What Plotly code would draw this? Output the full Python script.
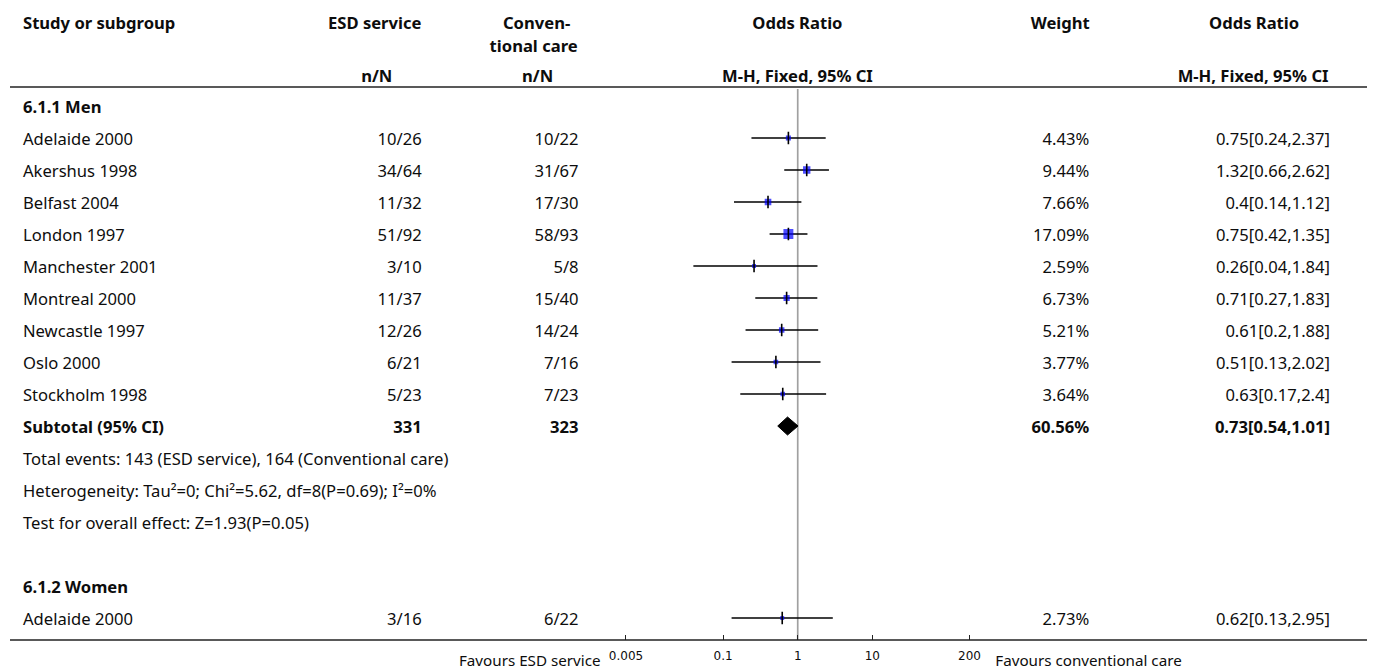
import plotly.graph_objects as go

# ---- data -------------------------------------------------------------
men_studies = ["Adelaide 2000", "Akershus 1998", "Belfast 2004", "London 1997",
               "Manchester 2001", "Montreal 2000", "Newcastle 1997", "Oslo 2000",
               "Stockholm 1998"]
men_esd = ["10/26", "34/64", "11/32", "51/92", "3/10", "11/37", "12/26", "6/21", "5/23"]
men_conv = ["10/22", "31/67", "17/30", "58/93", "5/8", "15/40", "14/24", "7/16", "7/23"]
men_weight = [4.43, 9.44, 7.66, 17.09, 2.59, 6.73, 5.21, 3.77, 3.64]
men_or = [0.75, 1.32, 0.4, 0.75, 0.26, 0.71, 0.61, 0.51, 0.63]
men_lo = [0.24, 0.66, 0.14, 0.42, 0.04, 0.27, 0.2, 0.13, 0.17]
men_hi = [2.37, 2.62, 1.12, 1.35, 1.84, 1.83, 1.88, 2.02, 2.4]

sub_esd_total, sub_conv_total = 331, 323
sub_weight = 60.56
sub_or, sub_lo, sub_hi = 0.73, 0.54, 1.01

women_studies = ["Adelaide 2000"]
women_esd = ["3/16"]
women_conv = ["6/22"]
women_weight = [2.73]
women_or = [0.62]
women_lo = [0.13]
women_hi = [2.95]

stats_lines = [
    "Total events: 143 (ESD service), 164 (Conventional care)",
    "Heterogeneity: Tau\u00b2=0; Chi\u00b2=5.62, df=8(P=0.69); I\u00b2=0%",
    "Test for overall effect: Z=1.93(P=0.05)",
]

tick_vals = [0.005, 0.1, 1, 10, 200]
tick_text = ["0.005", "0.1", "1", "10", "200"]

# ---- layout constants -------------------------------------------------
W, H = 1375, 669
ROW0_PX, ROW_PX = 106, 32          # pixel centre of row 0 and row pitch
AXIS_PX = 640                      # pixel of the bottom axis line
TOP_R = -ROW0_PX / ROW_PX
BOT_R = (H - ROW0_PX) / ROW_PX
AXIS_R = (AXIS_PX - ROW0_PX) / ROW_PX
TEXT_DY = 3 / ROW_PX               # nudge so glyphs sit on the row centre

FONT = "Noto Sans"
FS = 16.6
TXT = "#0d0d0d"


def px(x):
    """horizontal layout position in figure pixels"""
    return (x - 9) / 0.992


def row_of_px(p):
    return (p - ROW0_PX) / ROW_PX


# row indices
men_rows = list(range(1, 1 + len(men_studies)))
sub_row = 10
stats_rows = [11, 12, 13]
women_head_row = 15
women_rows = [16]

all_or = men_or + women_or
all_lo = men_lo + women_lo
all_hi = men_hi + women_hi
all_w = men_weight + women_weight
all_rows = men_rows + women_rows

fig = go.Figure()

# reference line at OR = 1
fig.add_trace(go.Scatter(x=[1, 1], y=[row_of_px(89), AXIS_R], mode="lines",
                         line=dict(color="#a0a0a0", width=1.7),
                         hoverinfo="skip", showlegend=False))

# confidence intervals
ci_x, ci_y = [], []
for lo, hi, r in zip(all_lo, all_hi, all_rows):
    ci_x += [lo, hi, None]
    ci_y += [r, r, None]
fig.add_trace(go.Scatter(x=ci_x, y=ci_y, mode="lines",
                         line=dict(color="black", width=1.5),
                         hoverinfo="skip", showlegend=False))

# weighted squares
fig.add_trace(go.Scatter(x=all_or, y=all_rows, mode="markers",
                         marker=dict(symbol="square", color="#0000ff",
                                     size=[2.4 * w ** 0.5 for w in all_w],
                                     line=dict(width=0)),
                         hoverinfo="skip", showlegend=False))

# point estimate ticks
fig.add_trace(go.Scatter(x=all_or, y=all_rows, mode="markers",
                         marker=dict(symbol="line-ns", size=9,
                                     line=dict(color="black", width=1.6)),
                         hoverinfo="skip", showlegend=False))

# subtotal diamond
dh = 9 / ROW_PX
fig.add_trace(go.Scatter(x=[sub_lo, sub_or, sub_hi, sub_or, sub_lo],
                         y=[sub_row, sub_row - dh, sub_row, sub_row + dh, sub_row],
                         mode="lines", fill="toself", fillcolor="black",
                         line=dict(color="black", width=1),
                         hoverinfo="skip", showlegend=False))

# ---- table text, placed on a full-width pixel axis (x2) ---------------
txt_x, txt_y, txt_s, txt_pos = [], [], [], []


def add_text(text, xp, r, pos="middle right", bold=False):
    txt_x.append(px(xp))
    txt_y.append(r + TEXT_DY)
    txt_s.append("<b>" + text + "</b>" if bold else text)
    txt_pos.append(pos)


L, R, C = "middle right", "middle left", "middle center"

hy1, hy2, hy3 = row_of_px(22), row_of_px(45), row_of_px(75)
add_text("Study or subgroup", 22, hy1, L, True)
add_text("ESD service", 374, hy1, C, True)
add_text("n/N", 376, hy3, C, True)
add_text("Conven-", 536, hy1, C, True)
add_text("tional care", 533, hy2, C, True)
add_text("n/N", 537, hy3, C, True)
add_text("Odds Ratio", 797, hy1, C, True)
add_text("M-H, Fixed, 95% CI", 797, hy3, C, True)
add_text("Weight", 1060, hy1, C, True)
add_text("Odds Ratio", 1254, hy1, C, True)
add_text("M-H, Fixed, 95% CI", 1253, hy3, C, True)


def fmt_or(o, lo, hi):
    return f"{o:g}[{lo:g},{hi:g}]"


add_text("6.1.1 Men", 22, 0, L, True)
for i, r in enumerate(men_rows):
    add_text(men_studies[i], 22, r, L)
    add_text(men_esd[i], 421, r, R)
    add_text(men_conv[i], 578, r, R)
    add_text(f"{men_weight[i]:.2f}%", 1089, r, R)
    add_text(fmt_or(men_or[i], men_lo[i], men_hi[i]), 1330, r, R)

add_text("Subtotal (95% CI)", 22, sub_row, L, True)
add_text(str(sub_esd_total), 421, sub_row, R, True)
add_text(str(sub_conv_total), 578, sub_row, R, True)
add_text(f"{sub_weight:.2f}%", 1089, sub_row, R, True)
add_text(fmt_or(sub_or, sub_lo, sub_hi), 1330, sub_row, R, True)

for line, r in zip(stats_lines, stats_rows):
    add_text(line, 22, r, L)

add_text("6.1.2 Women", 22, women_head_row, L, True)
for i, r in enumerate(women_rows):
    add_text(women_studies[i], 22, r, L)
    add_text(women_esd[i], 421, r, R)
    add_text(women_conv[i], 578, r, R)
    add_text(f"{women_weight[i]:.2f}%", 1089, r, R)
    add_text(fmt_or(women_or[i], women_lo[i], women_hi[i]), 1330, r, R)

fig.add_trace(go.Scatter(x=txt_x, y=txt_y, text=txt_s, mode="text",
                         textposition=txt_pos, xaxis="x2", yaxis="y",
                         textfont=dict(family=FONT, size=FS, color=TXT),
                         cliponaxis=False, hoverinfo="skip", showlegend=False))

# favours labels under the axis
fav_y = row_of_px(659) + TEXT_DY
fig.add_trace(go.Scatter(x=[px(600), px(995)], y=[fav_y, fav_y],
                         text=["Favours ESD service", "Favours conventional care"],
                         mode="text", textposition=["middle left", "middle right"],
                         xaxis="x2", yaxis="y",
                         textfont=dict(family=FONT, size=15.2, color=TXT),
                         cliponaxis=False, hoverinfo="skip", showlegend=False))

shapes = [
    dict(type="line", xref="x2", yref="y", x0=px(5), x1=px(1367),
         y0=row_of_px(87), y1=row_of_px(87), line=dict(color="#222", width=1.6)),
    dict(type="line", xref="x2", yref="y", x0=px(5), x1=px(1367),
         y0=AXIS_R, y1=AXIS_R, line=dict(color="#222", width=1.6)),
]

fig.update_layout(
    width=W, height=H,
    margin=dict(l=0, r=0, t=0, b=0),
    paper_bgcolor="white", plot_bgcolor="rgba(0,0,0,0)",
    showlegend=False,
    shapes=shapes,
    xaxis=dict(type="log", domain=[px(618) / W, px(979) / W],
               range=[(618 - 797.3) / 74.7, (979 - 797.3) / 74.7],
               anchor="free", position=(H - AXIS_PX) / H,
               tickvals=tick_vals, ticktext=tick_text,
               ticks="inside", ticklen=5, tickwidth=1.2, tickcolor="#222",
               tickfont=dict(family="DejaVu Sans", size=12, color=TXT),
               ticklabelstandoff=7,
               showgrid=False, zeroline=False, showline=False, fixedrange=True),
    xaxis2=dict(domain=[0, 1], range=[0, W], anchor="y", visible=False,
                fixedrange=True),
    yaxis=dict(domain=[0, 1], range=[BOT_R, TOP_R],
               visible=False, fixedrange=True),
)

fig.write_html("out.html")
